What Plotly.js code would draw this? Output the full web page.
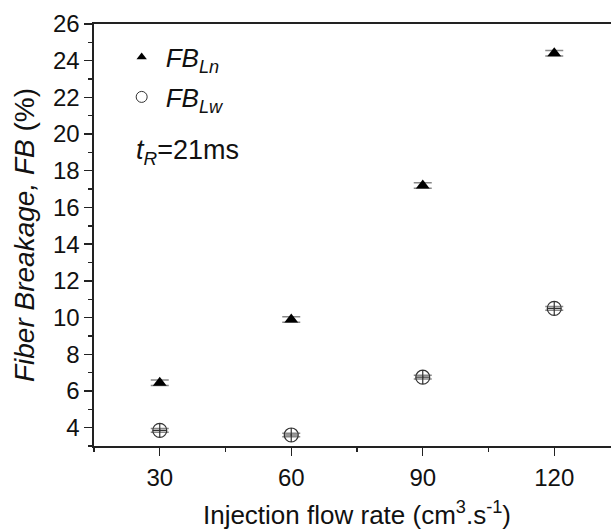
<!DOCTYPE html>
<html>
<head>
<meta charset="utf-8">
<script src="https://cdn.plot.ly/plotly-3.0.1.min.js"></script>
<style>
html,body{margin:0;padding:0;overflow:hidden;background:#fff;}
#chart{width:640px;height:530px;}
</style>
</head>
<body>
<div id="chart"></div>
<script>
// Data
const flowRate = [30, 60, 90, 120];
const fbLn = [6.45, 9.9, 17.2, 24.4];
const fbLw = [3.85, 3.6, 6.75, 10.5];
const fbLnErr = [0.15, 0.15, 0.15, 0.15];
const fbLwErr = [0.1, 0.1, 0.1, 0.1];
const xTicks = [30, 60, 90, 120];
const yTicks = [4, 6, 8, 10, 12, 14, 16, 18, 20, 22, 24, 26];

const FONT = 'Liberation Sans, Arial, sans-serif';

const traces = [
  {
    x: flowRate, y: fbLn, type: 'scatter', mode: 'markers', showlegend: false,
    marker: {symbol: 'triangle-up', size: 12, color: '#000'},
    error_y: {type: 'data', array: fbLnErr, visible: true, color: '#888', thickness: 1.5, width: 9}
  },
  {
    x: flowRate, y: fbLw, type: 'scatter', mode: 'markers', showlegend: false,
    marker: {symbol: 'circle-cross-open', size: 14, color: '#333', line: {width: 1.2, color: '#333'}},
    error_y: {type: 'data', array: fbLwErr, visible: true, color: '#888', thickness: 1.5, width: 9}
  },
  {
    x: [null], y: [null], type: 'scatter', mode: 'markers', legendgroup: 'a',
    name: '<i>FB</i><sub><i>Ln</i></sub>',
    marker: {symbol: 'triangle-up', size: 9, color: '#000'}
  },
  {
    x: [null], y: [null], type: 'scatter', mode: 'markers', legendgroup: 'b',
    name: '<i>FB</i><sub><i>Lw</i></sub>',
    marker: {symbol: 'circle-open', size: 11, color: '#333', line: {width: 1}}
  }
];

const layout = {
  width: 640, height: 530,
  margin: {l: 94, r: 20, t: 24, b: 84},
  paper_bgcolor: '#fff', plot_bgcolor: '#fff',
  font: {family: FONT, size: 24, color: '#111'},
  showlegend: true,
  legend: {
    x: 0.045, y: 0.977, xanchor: 'left', yanchor: 'top',
    bgcolor: 'rgba(0,0,0,0)', font: {size: 26, family: FONT, color: '#111'},
    tracegroupgap: 3, itemwidth: 38
  },
  xaxis: {
    range: [15, 135], tickvals: xTicks, ticktext: xTicks.map(String),
    showgrid: false, zeroline: false,
    showline: true, linecolor: '#222', linewidth: 1.6, mirror: true,
    ticks: 'outside', ticklen: 8, tickwidth: 1.4, tickcolor: '#222',
    minor: {dtick: 15, ticks: 'outside', ticklen: 4, tickwidth: 1.4, tickcolor: '#222', showgrid: false},
    tickfont: {size: 24, family: FONT, color: '#111'}, ticklabelstandoff: 2,
    title: {text: 'Injection flow rate (cm<sup>3</sup>.s<sup>-1</sup>)', font: {size: 26, family: FONT, color: '#111'}, standoff: 16}
  },
  yaxis: {
    range: [3, 26], tickvals: yTicks, ticktext: yTicks.map(String),
    showgrid: false, zeroline: false,
    showline: true, linecolor: '#222', linewidth: 1.6, mirror: true,
    ticks: 'outside', ticklen: 8, tickwidth: 1.4, tickcolor: '#222',
    minor: {tickvals: [3,5,7,9,11,13,15,17,19,21,23,25], ticks: 'outside', ticklen: 4, tickwidth: 1.4, tickcolor: '#222', showgrid: false},
    tickfont: {size: 24, family: FONT, color: '#111'},
    title: {text: '<i>Fiber Breakage, FB</i> (%)', font: {size: 28, family: FONT, color: '#111'}, standoff: 10}
  },
  annotations: [
    {
      xref: 'paper', yref: 'paper', x: (134 - 94) / 526, y: 1 - (152 - 24) / 422,
      xanchor: 'left', yanchor: 'middle', showarrow: false,
      text: '<i>t</i><sub><i>R</i></sub>=21ms', font: {size: 27, family: FONT, color: '#111'}
    }
  ]
};

Plotly.newPlot('chart', traces, layout, {displayModeBar: false, staticPlot: true});
</script>
</body>
</html>
